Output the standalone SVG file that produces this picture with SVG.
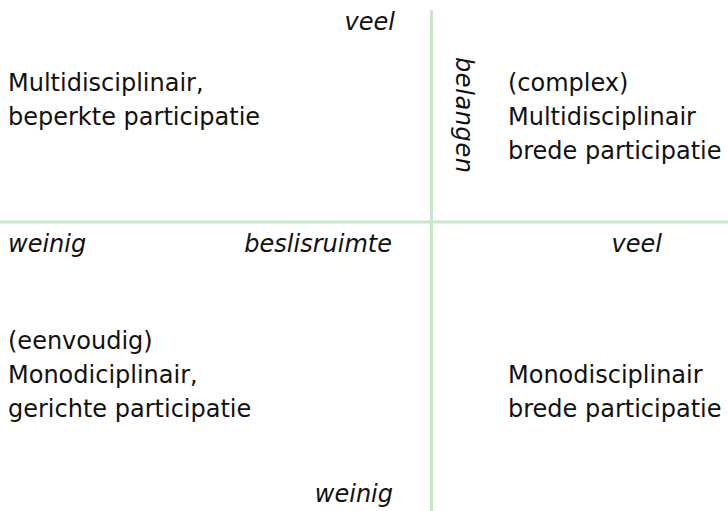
<svg xmlns="http://www.w3.org/2000/svg" width="728" height="511" viewBox="0 0 728 511">
<style>
text{font-family:"DejaVu Sans",Verdana,sans-serif;font-size:24px;fill:#111}
.i{font-style:italic}
.ax{stroke:#c8e6c9;stroke-width:3;fill:none}
</style>
<rect width="728" height="511" fill="#fff"/>
<g id="connectors">
<line class="ax" x1="431.5" y1="10" x2="431.5" y2="511"/>
<line class="ax" x1="0" y1="222" x2="728" y2="222"/>
</g>
<g id="axis-labels">
<text class="i" x="395" y="30" text-anchor="end">veel</text>
<text class="i" transform="translate(456,57) rotate(90)" letter-spacing="0.6">belangen</text>
<text class="i" x="8" y="252">weinig</text>
<text class="i" x="392" y="252" text-anchor="end">beslisruimte</text>
<text class="i" x="662" y="252" text-anchor="end">veel</text>
<text class="i" x="393" y="502" text-anchor="end">weinig</text>
</g>
<g id="q-top-left">
<text x="8" y="91">Multidisciplinair,</text>
<text x="8" y="125">beperkte participatie</text>
</g>
<g id="q-top-right">
<text x="508" y="91">(complex)</text>
<text x="508" y="125">Multidisciplinair</text>
<text x="508" y="159">brede participatie</text>
</g>
<g id="q-bottom-left">
<text x="8" y="349">(eenvoudig)</text>
<text x="8" y="383">Monodiciplinair,</text>
<text x="8" y="417">gerichte participatie</text>
</g>
<g id="q-bottom-right">
<text x="508" y="383">Monodisciplinair</text>
<text x="508" y="417">brede participatie</text>
</g>
</svg>
